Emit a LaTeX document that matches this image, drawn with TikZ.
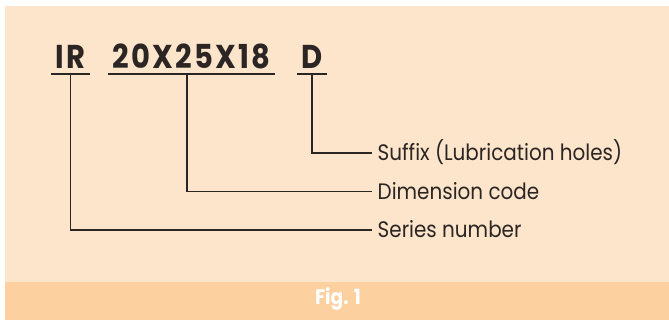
\documentclass[tikz,border=0pt]{standalone}
\usepackage{fontspec}
\setmainfont{Poppins}
\newfontfamily\narrowfont{Poppins}[FakeStretch=0.89]
\newfontfamily\codefont{Poppins}[FakeStretch=0.88,LetterSpace=7]
\usetikzlibrary{positioning}
\definecolor{paper}{HTML}{FDE5CB}
\definecolor{band}{HTML}{FCD09F}
\definecolor{ink}{HTML}{2B2523}
\tikzset{code/.style={anchor=base,inner xsep=4pt,inner ysep=0pt,text=ink,font=\fontsize{33}{36}\codefont\bfseries},lead/.style={draw=ink,line width=1.1pt},part/.style={anchor=west,inner xsep=6pt,inner ysep=0pt,text height=15.5pt,text depth=0pt,text=ink,font=\fontsize{22.4}{25}\narrowfont}}

\begin{document}
\begin{tikzpicture}[x=1pt,y=-1pt]
\path[use as bounding box] (0,0) rectangle (669,320);
\fill[paper] (5,6) rectangle (669,282);
\fill[band] (5,282) rectangle (669,320);
% code letters
\node[code] (ir) at (70.5,69) {IR};
\node[code] (dim) at (191.5,69) {20X25X18};
\node[code] (sfx) at (312,69) {D};
\draw[lead] ([yshift=-5pt]ir.base west) -- ([yshift=-5pt]ir.base east);
\draw[lead] ([yshift=-5pt]dim.base west) -- ([yshift=-5pt]dim.base east);
\draw[lead] ([yshift=-5pt]sfx.base west) -- ([yshift=-5pt]sfx.base east);
% meanings
\node[part] (sfxlabel) at (371.5,153) {Suffix (Lubrication holes)};
\node[part] (dimlabel) at (371.5,191.5) {Dimension code};
\node[part] (irlabel) at (371.5,230) {Series number};
\draw[lead] ([yshift=-5pt]sfx.base) |- (sfxlabel.west);
\draw[lead] ([xshift=-4.5pt,yshift=-5pt]dim.base) |- (dimlabel.west);
\draw[lead] ([yshift=-5pt]ir.base) |- (irlabel.west);
\node[anchor=base,inner sep=0pt,text=white,font=\fontsize{21}{24}\narrowfont\bfseries] (fig) at (338,305) {Fig. 1};
\end{tikzpicture}
\end{document}
